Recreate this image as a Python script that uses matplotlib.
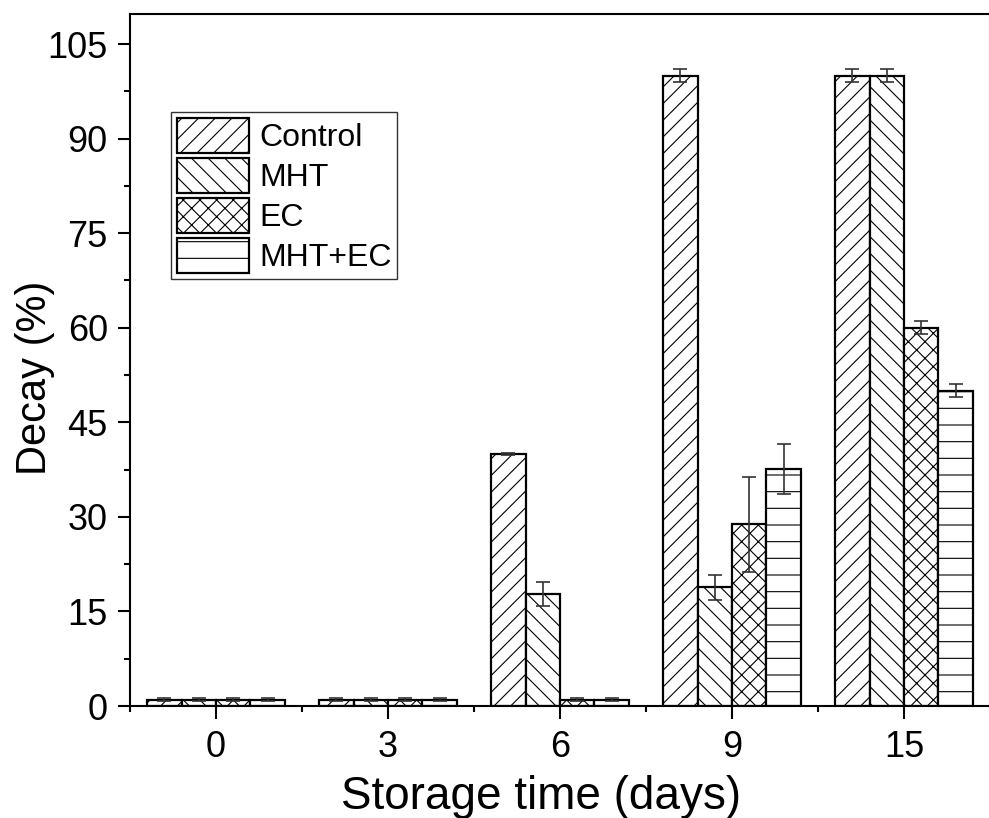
import matplotlib
matplotlib.use("Agg")
import matplotlib.pyplot as plt
import numpy as np
from matplotlib.ticker import MultipleLocator, FixedLocator

plt.rcParams['font.family'] = ['Liberation Sans', 'DejaVu Sans']
plt.rcParams['hatch.linewidth'] = 0.8

days = ['0', '3', '6', '9', '15']
series = ['Control', 'MHT', 'EC', 'MHT+EC']
control = [1, 1, 40, 100, 100]
control_err = [0.2, 0.2, 0.2, 1.0, 1.0]
mht = [1, 1, 17.7, 18.8, 100]
mht_err = [0.2, 0.2, 1.9, 1.95, 1.0]
ec = [1, 1, 1, 28.8, 60]
ec_err = [0.2, 0.2, 0.2, 7.6, 1.0]
mht_ec = [1, 1, 1, 37.6, 50]
mht_ec_err = [0.2, 0.2, 0.2, 3.9, 1.0]

values = [control, mht, ec, mht_ec]
errors = [control_err, mht_err, ec_err, mht_ec_err]
hatches = ['//', '\\\\', 'xx', '-']

fig = plt.figure(figsize=(9.89, 8.18), dpi=100)
ax = fig.add_axes([130/989, 1-706/818, (990-130)/989, (706-14)/818])

x = np.arange(len(days))
w = 0.2
for i, (vals, errs, h, name) in enumerate(zip(values, errors, hatches, series)):
    pos = x + (i - 1.5) * w
    ax.bar(pos, vals, width=w, facecolor='white', edgecolor='black',
           linewidth=1.6, hatch=h, label=name, zorder=2)
    ax.errorbar(pos, vals, yerr=errs, fmt='none', ecolor='#333333',
                elinewidth=1.2, capsize=4.7, capthick=1.2, zorder=3)

ax.set_xlim(-0.5, 4.5)
ax.set_ylim(0, 109.76)
ax.set_xticks(x)
ax.set_xticklabels(days)
ax.xaxis.set_minor_locator(FixedLocator(np.arange(-0.5, 4.6, 1.0)))
ax.yaxis.set_major_locator(MultipleLocator(15))
ax.yaxis.set_minor_locator(MultipleLocator(7.5))

ax.tick_params(axis='both', which='major', direction='out', length=9, width=1.5,
               labelsize=26, top=False, right=False)
ax.tick_params(axis='both', which='minor', direction='out', length=4.3, width=1.5,
               top=False, right=False)
ax.tick_params(axis='y', which='major', pad=7)
ax.tick_params(axis='x', which='major', pad=8)

for s in ax.spines.values():
    s.set_linewidth(1.5)

ax.set_xlabel('Storage time (days)', fontsize=33)
ax.set_ylabel('Decay (%)', fontsize=30)
ax.xaxis.set_label_coords(0.4776, -0.0995)
ax.yaxis.set_label_coords(-0.087, 0.4744)

leg = ax.legend(loc='upper left', bbox_to_anchor=(41/860, (706-112)/692),
                borderaxespad=0, fontsize=23, frameon=True, fancybox=False,
                edgecolor='black', handlelength=2.25, handleheight=1.32,
                labelspacing=0.15, handletextpad=0.33, borderpad=0.18)
leg.get_frame().set_linewidth(1.0)

fig.savefig('out.png', dpi=100)
